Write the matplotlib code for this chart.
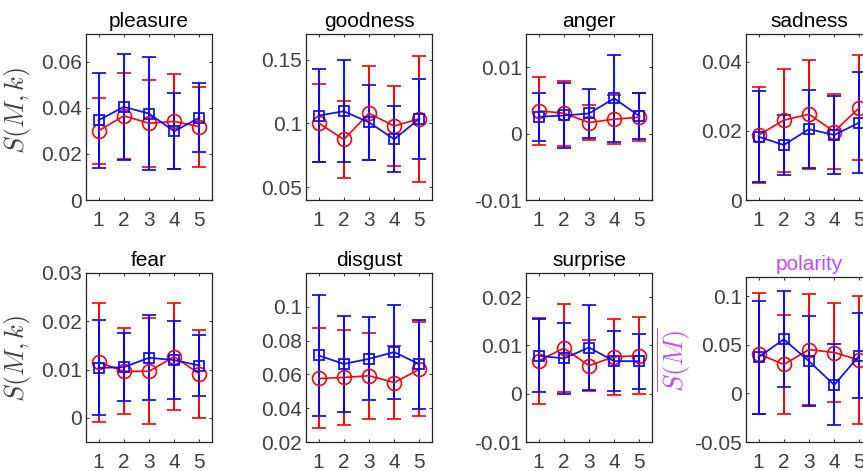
import numpy as np
import matplotlib
matplotlib.use('Agg')
import matplotlib.pyplot as plt
from matplotlib.ticker import FormatStrFormatter

plt.rcParams['font.family'] = ['Liberation Sans', 'DejaVu Sans']
plt.rcParams['mathtext.fontset'] = 'cm'

# panel titles, in drawing order (2 rows x 4 columns)
emotions = ['pleasure', 'goodness', 'anger', 'sadness',
            'fear', 'disgust', 'surprise', 'polarity']
k = [1, 2, 3, 4, 5]

# red series (circles): means and error half-widths
red_mean = [
    [0.0300, 0.0365, 0.0333, 0.0341, 0.0318],
    [0.1003, 0.0874, 0.1079, 0.0979, 0.1037],
    [0.00343, 0.00308, 0.00167, 0.00217, 0.00247],
    [0.01875, 0.0231, 0.0248, 0.0198, 0.0267],
    [0.01154, 0.00965, 0.00965, 0.01266, 0.00909],
    [0.0576, 0.0582, 0.0592, 0.0552, 0.0630],
    [0.0068, 0.00943, 0.00582, 0.00766, 0.00787],
    [0.0408, 0.0299, 0.0452, 0.0422, 0.0344],
]
red_err = [
    [0.0143, 0.0188, 0.0188, 0.0206, 0.0173],
    [0.0305, 0.0299, 0.0368, 0.0312, 0.0493],
    [0.0051, 0.0049, 0.00267, 0.0037, 0.00358],
    [0.01385, 0.0149, 0.0158, 0.0109, 0.01515],
    [0.0123, 0.0089, 0.0110, 0.0111, 0.00905],
    [0.0296, 0.0280, 0.0253, 0.0215, 0.0279],
    [0.0089, 0.0091, 0.0053, 0.0079, 0.0080],
    [0.0624, 0.0512, 0.0573, 0.0505, 0.0657],
]

# blue series (squares)
blue_mean = [
    [0.0346, 0.0404, 0.0375, 0.0298, 0.0357],
    [0.1061, 0.1095, 0.1008, 0.0876, 0.1037],
    [0.00253, 0.00273, 0.00303, 0.0053, 0.00263],
    [0.0183, 0.0159, 0.0205, 0.0188, 0.0224],
    [0.01035, 0.01049, 0.01245, 0.01196, 0.01084],
    [0.0712, 0.0662, 0.0692, 0.0732, 0.0660],
    [0.00787, 0.0073, 0.00957, 0.00674, 0.00674],
    [0.0374, 0.0558, 0.0333, 0.0088, 0.0391],
]
blue_err = [
    [0.0206, 0.0230, 0.0245, 0.0165, 0.0150],
    [0.0362, 0.0399, 0.0294, 0.0257, 0.0312],
    [0.00364, 0.00488, 0.00372, 0.0065, 0.0035],
    [0.01315, 0.0087, 0.01125, 0.0112, 0.01455],
    [0.00986, 0.00703, 0.00885, 0.0080, 0.00626],
    [0.0356, 0.0286, 0.0246, 0.0277, 0.0262],
    [0.0075, 0.0073, 0.0089, 0.0062, 0.0057],
    [0.0582, 0.0494, 0.0463, 0.0417, 0.0442],
]

ylims = [(0, 0.072), (0.04, 0.17), (-0.01, 0.015), (0, 0.048),
         (-0.005, 0.03), (0.02, 0.12), (-0.01, 0.025), (-0.05, 0.12)]
yticks = [[0, 0.02, 0.04, 0.06], [0.05, 0.1, 0.15], [-0.01, 0, 0.01],
          [0, 0.02, 0.04], [0, 0.01, 0.02, 0.03],
          [0.02, 0.04, 0.06, 0.08, 0.1], [-0.01, 0, 0.01, 0.02],
          [-0.05, 0, 0.05, 0.1]]

purple = '#c04cff'
gray = '#404040'

W, H = 863, 471
fig = plt.figure(figsize=(W / 100, H / 100), dpi=100)

col_left = [86, 306, 526, 746]
row_top = [34, 273]
row_bot = [200, 442]

for i, name in enumerate(emotions):
    r, c = i // 4, i % 4
    top = row_top[r]
    if name == 'polarity':
        top = 277
    bot = row_bot[r]
    ax = fig.add_axes([col_left[c] / W, (H - bot) / H, 126 / W, (bot - top) / H])

    ax.errorbar(k, red_mean[i], yerr=red_err[i], color='r', marker='o',
                mfc='none', ms=10, mew=1.2, lw=1.2, elinewidth=1.4,
                capsize=5, capthick=1.4)
    ax.errorbar(k, blue_mean[i], yerr=blue_err[i], color='b', marker='s',
                mfc='none', ms=7.5, mew=1.3, lw=1.3, elinewidth=1.5,
                capsize=5, capthick=1.5, alpha=0.92)

    ax.set_xlim(0.5, 5.5)
    ax.set_ylim(*ylims[i])
    ax.set_xticks(k)
    ax.set_yticks(yticks[i])
    ax.yaxis.set_major_formatter(FormatStrFormatter('%g'))
    ax.tick_params(direction='in', length=2.5, width=0.8, top=True,
                   right=True, labelsize=15, colors=gray)
    ax.tick_params(axis='x', pad=8)
    ax.tick_params(axis='y', pad=3)
    for s in ax.spines.values():
        s.set_color('#262626')
        s.set_linewidth(0.9)

    tcolor = purple if name == 'polarity' else 'black'
    ax.set_title(name, fontsize=15, color=tcolor, pad=5)

    if c == 0:
        ax.set_ylabel(r'$\overline{S(M,k)}$', fontsize=19, color=gray)
        ax.yaxis.set_label_coords(-0.41, 0.55 if r == 0 else 0.5)
    if name == 'polarity':
        ax.set_ylabel(r'$\overline{S(M)}$', fontsize=19, color=purple)
        ax.yaxis.set_label_coords(-0.42, 0.5)

fig.savefig('out.png', dpi=100)
